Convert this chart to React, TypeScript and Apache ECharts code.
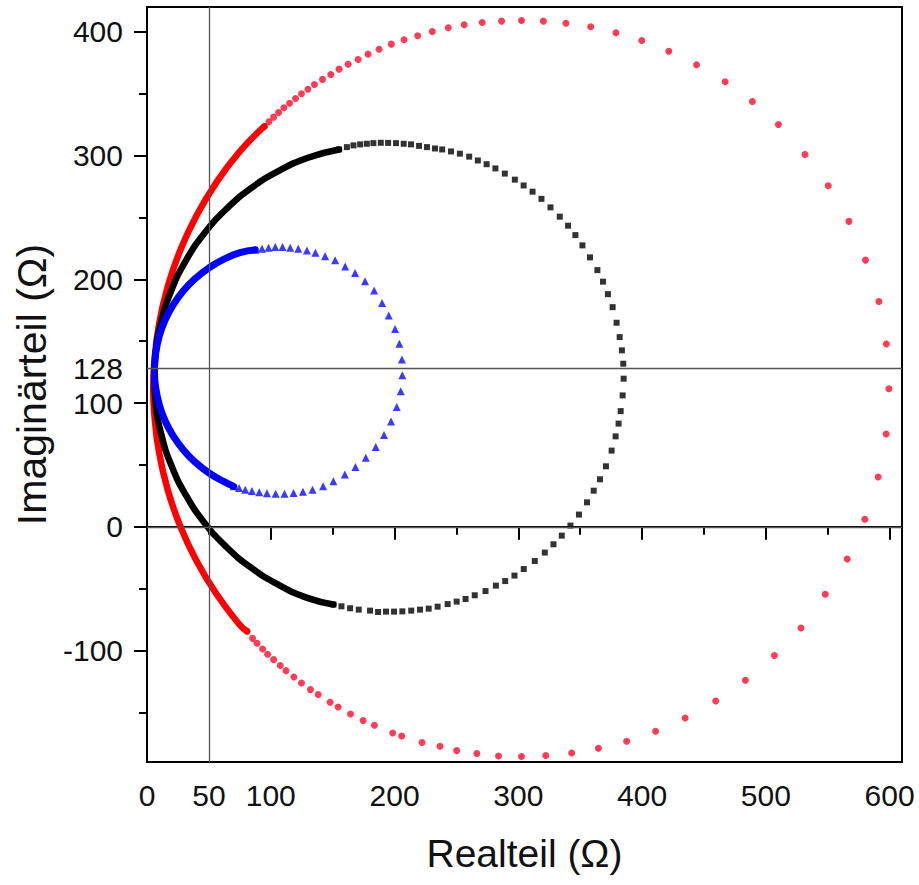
import { useEffect, useRef } from 'react';
import * as echarts from 'echarts';

// Red series (circles): sparse, individually visible points [Realteil, Imaginärteil]
const RED_DOTS: [number, number][] = [
  [94.8, 323.5], [98.5, 327.3], [102.3, 331.0], [106.3, 334.8], [110.6, 338.6], [115.2, 342.3],
  [120.0, 346.1], [124.8, 349.9], [130.0, 353.6], [135.3, 357.4], [141.8, 361.5], [148.5, 365.5],
  [155.2, 369.8], [162.5, 373.8], [170.6, 377.6], [178.6, 381.9], [187.5, 385.9], [197.4, 390.0],
  [207.7, 393.5], [218.7, 396.8], [230.5, 400.2], [243.4, 403.2], [256.3, 405.7], [270.8, 407.5],
  [286.5, 408.6], [302.6, 409.1], [320.3, 408.6], [338.5, 406.9], [358.5, 404.0], [378.9, 399.2],
  [399.8, 393.0], [421.6, 384.3], [444.0, 373.3], [467.1, 359.6], [489.1, 343.7], [510.1, 325.1],
  [531.6, 300.9], [550.4, 275.6], [567.1, 246.8], [580.5, 215.5], [591.3, 182.1], [597.4, 147.7],
  [599.4, 111.6], [597.2, 75.0], [590.7, 40.2], [580.0, 6.1], [565.7, -26.0], [548.0, -54.5],
  [528.4, -81.7], [506.9, -104.0], [483.5, -124.0], [459.5, -140.7], [434.8, -154.4], [410.9, -165.2],
  [387.5, -173.3], [364.7, -178.9], [343.1, -182.7], [322.2, -184.8], [302.6, -185.6], [284.0, -185.1],
  [266.5, -183.2], [250.2, -180.8], [236.7, -177.3], [222.2, -174.3], [205.8, -169.0], [198.5, -166.6],
  [183.7, -160.3], [174.6, -156.5], [164.4, -151.2], [154.4, -145.6], [148.0, -141.8], [138.3, -135.5],
  [132.1, -131.5], [124.8, -126.2], [118.7, -121.3], [112.3, -116.2], [107.7, -112.1], [102.3, -107.3],
  [97.4, -103.0], [93.4, -98.7], [88.9, -94.1], [85.3, -90.1], [80.8, -84.4],
];
// Red series: densely packed points on the left that merge into a solid band
const RED_DENSE: [number, number][] = [
  [94.8, 323.5], [74.7, 302.9], [56.0, 278.1], [40.0, 251.4], [26.8, 223.3], [16.7, 193.9],
  [9.7, 163.6], [5.9, 132.7], [5.0, 112.0], [5.9, 91.3], [9.7, 60.4], [16.7, 30.1],
  [26.8, 0.7], [40.0, -27.4], [56.0, -54.1], [74.7, -78.9], [80.8, -84.4],
];

// Black series (squares)
const BLACK_DOTS: [number, number][] = [
  [155.2, 304.9], [161.5, 306.8], [166.8, 308.2], [172.2, 309.0], [177.6, 309.5], [182.9, 310.0],
  [188.9, 310.3], [194.8, 310.2], [201.2, 310.0], [207.4, 309.5], [213.3, 309.0], [219.8, 307.8],
  [226.2, 306.8], [232.7, 305.7], [238.5, 304.9], [245.6, 303.3], [252.8, 301.5], [260.3, 299.1],
  [267.3, 296.0], [274.4, 293.0], [281.5, 289.6], [289.1, 285.4], [297.2, 280.5], [304.3, 275.8],
  [311.5, 270.8], [318.7, 265.0], [326.0, 258.1], [333.5, 250.6], [340.2, 243.3], [346.1, 235.7],
  [351.8, 227.4], [357.9, 217.7], [363.9, 207.4], [368.4, 198.1], [372.4, 188.0], [376.2, 177.5],
  [379.4, 164.9], [381.9, 153.3], [383.7, 142.6], [384.8, 131.8], [385.1, 119.7], [384.3, 106.2],
  [382.7, 93.5], [381.0, 83.4], [378.6, 73.1], [375.4, 61.6], [370.8, 48.9], [366.0, 38.4],
  [360.9, 29.2], [355.5, 19.8], [349.0, 9.9], [342.1, 1.0], [335.1, -7.1], [328.4, -14.1],
  [321.4, -20.8], [313.3, -27.6], [304.4, -34.1], [296.9, -39.4], [289.4, -43.8], [281.9, -47.5],
  [273.5, -51.9], [264.8, -55.3], [257.4, -58.3], [250.2, -60.4], [242.9, -62.4], [234.8, -64.5],
  [227.6, -66.1], [220.6, -66.9], [213.5, -67.7], [206.3, -68.3], [199.6, -68.5], [193.1, -68.5],
  [186.7, -68.8], [180.2, -67.7], [171.1, -66.9], [164.1, -65.8], [157.1, -64.2], [150.6, -62.8],
];
const BLACK_DENSE: [number, number][] = [
  [155.2, 304.9], [130.7, 298.4], [106.5, 287.6], [84.1, 273.6], [63.9, 256.6], [46.2, 237.0],
  [31.4, 215.1], [19.8, 191.3], [11.6, 166.1], [7.0, 140.1], [6.0, 120.3], [7.0, 100.5],
  [11.6, 74.5], [19.8, 49.3], [31.4, 25.6], [46.2, 3.6], [63.9, -16.0], [84.1, -33.0],
  [106.5, -47.0], [130.7, -57.8], [150.6, -62.8],
];

// Blue series (triangles)
const BLUE_DOTS: [number, number][] = [
  [87.5, 223.9], [92.9, 224.7], [98.2, 225.5], [103.6, 226.0], [109.5, 226.0], [115.7, 225.5],
  [122.2, 224.7], [129.2, 223.3], [136.1, 221.5], [143.9, 218.7], [152.0, 215.3], [160.1, 210.4],
  [168.1, 205.0], [176.2, 198.5], [183.5, 191.0], [189.9, 180.8], [195.3, 170.8], [200.4, 159.8],
  [203.9, 148.0], [206.0, 135.1], [206.3, 122.4], [205.0, 109.5], [201.8, 96.8], [197.2, 85.2],
  [191.5, 74.2], [184.8, 64.5], [176.8, 55.9], [168.4, 48.3], [159.8, 42.2], [150.6, 36.8],
  [142.3, 32.7], [133.7, 30.0], [126.0, 28.4], [118.4, 27.3], [111.1, 26.8], [103.9, 26.8],
  [96.9, 27.1], [90.7, 27.9], [84.8, 28.9], [79.4, 30.0], [74.4, 31.3], [70.0, 32.7],
];
const BLUE_DENSE: [number, number][] = [
  [87.5, 223.9], [75.1, 221.5], [62.2, 216.3], [50.1, 209.3], [39.1, 200.7], [29.4, 190.7],
  [21.2, 179.4], [14.6, 167.1], [9.9, 154.0], [7.0, 140.3], [6.0, 126.4], [7.0, 112.5],
  [9.9, 98.8], [14.6, 85.7], [21.2, 73.4], [29.4, 62.1], [39.1, 52.1], [50.1, 43.5],
  [62.2, 36.5], [70.0, 32.7],
];

// Axes
const X_MAJOR_TICKS = [0, 100, 200, 300, 400, 500, 600];
const X_MINOR_TICKS = [50, 150, 250, 350, 450, 550];
const X_LABELS = [0, 50, 100, 200, 300, 400, 500, 600];
const Y_MAJOR_TICKS = [-100, 0, 100, 200, 300, 400];
const Y_MINOR_TICKS = [-150, -50, 50, 150, 250, 350];
const Y_LABELS = [-100, 0, 100, 128, 200, 300, 400];
const REF_X = [50];
const REF_Y = [0, 128];

const FONT = '"Liberation Sans", Arial, sans-serif';
const RED = '#ff0a2a';
const BLACK = '#000000';
const BLUE = '#0a0aff';

export default function App() {
  const ref = useRef<HTMLDivElement>(null);
  useEffect(() => {
    const chart = echarts.init(ref.current!, null, { renderer: 'svg' });
    const tickStyle = { color: '#000', width: 2 };
    const baseX = { type: 'value', min: 0, max: 610, position: 'bottom', splitLine: { show: false } };
    const baseY = { type: 'value', min: -190, max: 420, position: 'left', splitLine: { show: false } };
    chart.setOption({
      animation: false,
      backgroundColor: '#ffffff',
      grid: { left: 147, top: 7, width: 755, height: 755, show: true, borderColor: '#000', borderWidth: 2, backgroundColor: 'transparent' },
      xAxis: [
        {
          ...baseX,
          axisLine: { show: true, lineStyle: { color: '#000', width: 2 } },
          axisTick: { show: true, customValues: X_MAJOR_TICKS, length: 13, lineStyle: tickStyle },
          axisLabel: { customValues: X_LABELS, fontSize: 30, color: '#111', fontFamily: FONT, margin: 18 },
          name: 'Realteil (Ω)',
          nameLocation: 'middle',
          nameGap: 72,
          nameTextStyle: { fontSize: 39, color: '#111', fontFamily: FONT },
        },
        {
          ...baseX,
          axisLine: { show: false },
          axisTick: { show: true, customValues: X_MINOR_TICKS, length: 8, lineStyle: tickStyle },
          axisLabel: { show: false },
        },
      ],
      yAxis: [
        {
          ...baseY,
          axisLine: { show: true, lineStyle: { color: '#000', width: 2 } },
          axisTick: { show: true, customValues: Y_MAJOR_TICKS, length: 13, lineStyle: tickStyle },
          axisLabel: { customValues: Y_LABELS, fontSize: 30, color: '#111', fontFamily: FONT, margin: 24 },
          name: 'Imaginärteil (Ω)',
          nameLocation: 'middle',
          nameGap: 89,
          nameTextStyle: { fontSize: 41, color: '#111', fontFamily: FONT },
        },
        {
          ...baseY,
          axisLine: { show: false },
          axisTick: { show: true, customValues: Y_MINOR_TICKS, length: 8, lineStyle: tickStyle },
          axisLabel: { show: false },
        },
      ],
      series: [
        {
          name: 'Referenz',
          type: 'line',
          data: [],
          silent: true,
          markLine: {
            silent: true,
            symbol: 'none',
            label: { show: false },
            lineStyle: { color: '#555', width: 1.3, type: 'solid' },
            data: [...REF_X.map((v) => ({ xAxis: v })), ...REF_Y.map((v) => ({ yAxis: v }))],
          },
        },
        {
          name: 'rot',
          type: 'line',
          data: RED_DENSE,
          showSymbol: false,
          smooth: true,
          lineStyle: { color: '#ff0000', width: 6.5, cap: 'round', join: 'round' },
        },
        { name: 'rot', type: 'scatter', data: RED_DOTS, symbol: 'circle', symbolSize: 7, itemStyle: { color: RED } },
        {
          name: 'schwarz',
          type: 'line',
          data: BLACK_DENSE,
          showSymbol: false,
          smooth: true,
          lineStyle: { color: BLACK, width: 6.5, cap: 'round', join: 'round' },
        },
        { name: 'schwarz', type: 'scatter', data: BLACK_DOTS, symbol: 'rect', symbolSize: 6, itemStyle: { color: BLACK } },
        {
          name: 'blau',
          type: 'line',
          data: BLUE_DENSE,
          showSymbol: false,
          smooth: true,
          lineStyle: { color: '#0000ff', width: 7, cap: 'round', join: 'round' },
        },
        { name: 'blau', type: 'scatter', data: BLUE_DOTS, symbol: 'triangle', symbolSize: 8, itemStyle: { color: BLUE } },
      ],
    });
    return () => chart.dispose();
  }, []);
  return <div ref={ref} style={{ position: 'absolute', left: 0, top: 0, width: 919, height: 885 }} />;
}
